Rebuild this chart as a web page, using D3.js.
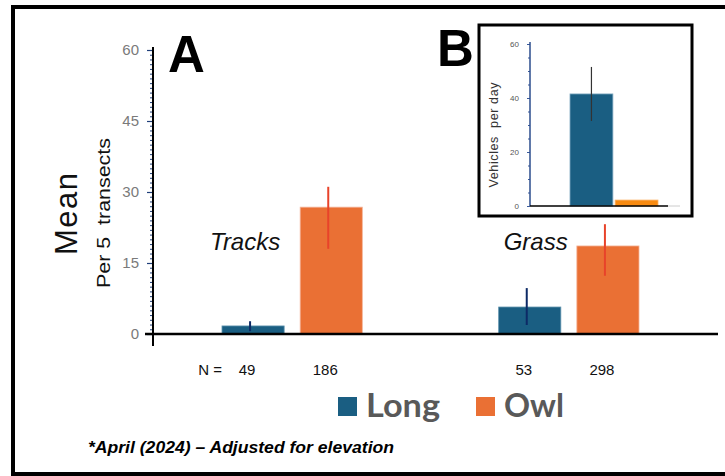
<!DOCTYPE html>
<html><head><meta charset="utf-8">
<script src="https://cdn.jsdelivr.net/npm/d3@7"></script>
<style>body{margin:0;background:#fff}svg{display:block}</style>
</head><body>
<svg id="c" width="725" height="476"></svg>
<script>
// ---- data ----
const groups = ["Tracks", "Grass"];
const seriesNames = ["Long", "Owl"];
const longMean = [1.7, 5.7];
const longErrLow = [0.6, 1.9];
const longErrHigh = [2.7, 9.7];
const owlMean = [26.8, 18.6];
const owlErrLow = [18.0, 12.3];
const owlErrHigh = [31.1, 23.2];
const nLabels = [["49", "186"], ["53", "298"]];
const yTicks = [0, 15, 30, 45, 60];

const insetCats = ["Long", "Owl"];
const insetValues = [41.5, 2.2];
const insetErrLow = [31.5, null];
const insetErrHigh = [51.5, null];
const insetTicks = [0, 20, 40, 60];

const colors = { Long: "#1a5e82", Owl: "#ea7034" };
const errColors = { Long: "#0d2a66", Owl: "#e8432a" };

const svg = d3.select("#c");
const font = "Liberation Sans, Arial, sans-serif";

// outer frame
svg.append("line").attr("x1", 11).attr("x2", 725).attr("y1", 7).attr("y2", 7).attr("stroke", "#000").attr("stroke-width", 4);
svg.append("line").attr("x1", 13).attr("x2", 13).attr("y1", 5).attr("y2", 476).attr("stroke", "#000").attr("stroke-width", 4);
svg.append("line").attr("x1", 11).attr("x2", 725).attr("y1", 474).attr("y2", 474).attr("stroke", "#000").attr("stroke-width", 4);

// ---- main chart ----
const y = d3.scaleLinear().domain([0, 60]).range([334, 50]);
const xg = d3.scaleBand().domain(groups).range([222, 639]).paddingInner(0.4928).paddingOuter(0);
const xs = d3.scaleBand().domain(seriesNames).range([0, xg.bandwidth()]).paddingInner(0.205).paddingOuter(0);

// minor ticks
const minor = d3.range(0, 61, 1);
svg.append("g").attr("transform", "translate(153,0)")
  .call(d3.axisLeft(y).tickValues(minor).tickSize(3).tickFormat(""))
  .call(g => g.select(".domain").remove())
  .call(g => g.selectAll("line").attr("stroke", "#1f3f7a").attr("stroke-width", 1));

// major axis
const ax = svg.append("g").attr("transform", "translate(153,0)")
  .call(d3.axisLeft(y).tickValues(yTicks).tickSize(6).tickPadding(8));
ax.select(".domain").remove();
ax.selectAll("line").attr("stroke", "#1f3f7a").attr("stroke-width", 1.2);
ax.selectAll("text").attr("fill", "#7a7a7a").attr("font-size", 15).attr("font-family", font);
svg.append("line").attr("x1", 153).attr("x2", 153).attr("y1", 47).attr("y2", 346).attr("stroke", "#000").attr("stroke-width", 2);

const allData = [];
groups.forEach((g, i) => {
  allData.push({ g, s: "Long", v: longMean[i], lo: longErrLow[i], hi: longErrHigh[i] });
  allData.push({ g, s: "Owl", v: owlMean[i], lo: owlErrLow[i], hi: owlErrHigh[i] });
});
const cx = d => xg(d.g) + xs(d.s) + xs.bandwidth() / 2;

svg.append("g").selectAll("rect").data(allData).join("rect")
  .attr("x", d => xg(d.g) + xs(d.s))
  .attr("width", xs.bandwidth())
  .attr("y", d => y(d.v))
  .attr("height", d => y(0) - y(d.v))
  .attr("fill", d => colors[d.s])
  .attr("stroke", d => d.s === "Owl" ? "#f4b59a" : "#5f93ad").attr("stroke-width", 0.8);

svg.append("g").selectAll("line").data(allData).join("line")
  .attr("x1", d => cx(d) - 3)
  .attr("x2", d => cx(d) - 3)
  .attr("y1", d => y(d.lo)).attr("y2", d => y(d.hi))
  .attr("stroke", d => errColors[d.s]).attr("stroke-width", 2);

// baseline
svg.append("line").attr("x1", 145).attr("x2", 718).attr("y1", y(0)).attr("y2", y(0)).attr("stroke", "#000").attr("stroke-width", 2.5);

// group labels
const groupLabelOffset = [-12, 5];
svg.append("g").selectAll("text").data(groups).join("text")
  .attr("x", (d, i) => xg(d) + groupLabelOffset[i])
  .attr("y", 250)
  .attr("font-family", font).attr("font-style", "italic").attr("font-size", 24).attr("fill", "#111")
  .text(d => d);

// N labels
const nData = [];
groups.forEach((g, i) => seriesNames.forEach((s, j) => nData.push({ g, s, t: nLabels[i][j] })));
svg.append("g").selectAll("text").data(nData).join("text")
  .attr("x", d => cx(d) - 6)
  .attr("y", 375)
  .attr("text-anchor", "middle")
  .attr("font-family", font).attr("font-size", 15).attr("fill", "#111")
  .text(d => d.t);
svg.append("text").attr("x", cx({ g: "Tracks", s: "Long" }) - 31).attr("y", 375)
  .attr("text-anchor", "end").attr("font-family", font).attr("font-size", 15).attr("fill", "#111").text("N =");

// axis titles
svg.append("text").attr("transform", "translate(77,214) rotate(-90)").attr("text-anchor", "middle")
  .attr("font-family", font).attr("font-size", 31).attr("fill", "#111").attr("textLength", 82).text("Mean");
svg.append("text").attr("transform", "translate(110,213) rotate(-90)").attr("text-anchor", "middle")
  .attr("font-family", font).attr("font-size", 18).attr("fill", "#111").attr("xml:space", "preserve")
  .attr("textLength", 150).attr("lengthAdjust", "spacingAndGlyphs").text("Per 5  transects");

// panel letters
svg.append("text").attr("x", 168).attr("y", 72).attr("font-family", font).attr("font-weight", "bold").attr("font-size", 51).attr("fill", "#000").text("A");
svg.append("text").attr("x", 437).attr("y", 66).attr("font-family", font).attr("font-weight", "bold").attr("font-size", 51).attr("fill", "#000").text("B");

// legend
const leg = svg.append("g");
const legX = [338, 476];
const legLen = [74, 60];
seriesNames.forEach((s, i) => {
  leg.append("rect").attr("x", legX[i]).attr("y", 397).attr("width", 19).attr("height", 19).attr("fill", colors[s]);
  leg.append("text").attr("x", legX[i] + 28).attr("y", 417).attr("font-family", "Lato, 'Open Sans', sans-serif")
    .attr("font-weight", "bold").attr("font-size", 32).attr("fill", "#595959")
    .attr("textLength", legLen[i]).attr("lengthAdjust", "spacingAndGlyphs").text(s);
});

// footnote
svg.append("text").attr("x", 88).attr("y", 453).attr("font-family", font).attr("font-weight", "bold").attr("font-style", "italic")
  .attr("font-size", 16).attr("fill", "#000").attr("textLength", 306).attr("lengthAdjust", "spacingAndGlyphs")
  .text("*April (2024) \u2013 Adjusted for elevation");

// ---- inset B ----
svg.append("rect").attr("x", 479).attr("y", 25).attr("width", 213).attr("height", 191)
  .attr("fill", "#fff").attr("stroke", "#000").attr("stroke-width", 3);
const yi = d3.scaleLinear().domain([0, 60]).range([206, 44]);
const xi = d3.scaleBand().domain(insetCats).range([570, 658]).paddingInner(0.05);

svg.append("g").attr("transform", "translate(530,0)")
  .call(d3.axisLeft(yi).tickValues(d3.range(0, 61, 5)).tickSize(2).tickFormat(""))
  .call(g => g.select(".domain").remove())
  .call(g => g.selectAll("line").attr("stroke", "#3a5a9a"));
const axi = svg.append("g").attr("transform", "translate(530,0)")
  .call(d3.axisLeft(yi).tickValues(insetTicks).tickSize(3).tickPadding(8));
axi.select(".domain").remove();
axi.selectAll("line").attr("stroke", "#3a5a9a");
axi.selectAll("text").attr("fill", "#555").attr("font-size", 8).attr("font-family", font);
svg.append("line").attr("x1", 530).attr("x2", 530).attr("y1", 42).attr("y2", 206).attr("stroke", "#2b4c8c").attr("stroke-width", 1.5);

const insetColors = ["#1a5e82", "#f88b12"];
svg.append("g").selectAll("rect").data(insetValues).join("rect")
  .attr("x", (d, i) => xi(insetCats[i]))
  .attr("width", xi.bandwidth())
  .attr("y", d => yi(d))
  .attr("height", d => yi(0) - yi(d))
  .attr("fill", (d, i) => insetColors[i])
  .attr("stroke", (d, i) => i === 0 ? "#7fa8c0" : "#fbb36a").attr("stroke-width", 0.8);
svg.append("g").selectAll("line").data(insetValues.map((v, i) => i).filter(i => insetErrLow[i] != null)).join("line")
  .attr("x1", i => xi(insetCats[i]) + xi.bandwidth() / 2)
  .attr("x2", i => xi(insetCats[i]) + xi.bandwidth() / 2)
  .attr("y1", i => yi(insetErrLow[i])).attr("y2", i => yi(insetErrHigh[i]))
  .attr("stroke", "#333").attr("stroke-width", 1.2);
svg.append("line").attr("x1", 530).attr("x2", 668).attr("y1", 206).attr("y2", 206).attr("stroke", "#000").attr("stroke-width", 1.5);
svg.append("line").attr("x1", 668).attr("x2", 680).attr("y1", 206).attr("y2", 206).attr("stroke", "#ccc").attr("stroke-width", 1);
svg.append("text").attr("transform", "translate(498,135) rotate(-90)").attr("text-anchor", "middle")
  .attr("font-family", font).attr("font-size", 12.5).attr("fill", "#333").attr("xml:space", "preserve")
  .attr("textLength", 105).text("Vehicles  per day");
</script>
</body></html>
